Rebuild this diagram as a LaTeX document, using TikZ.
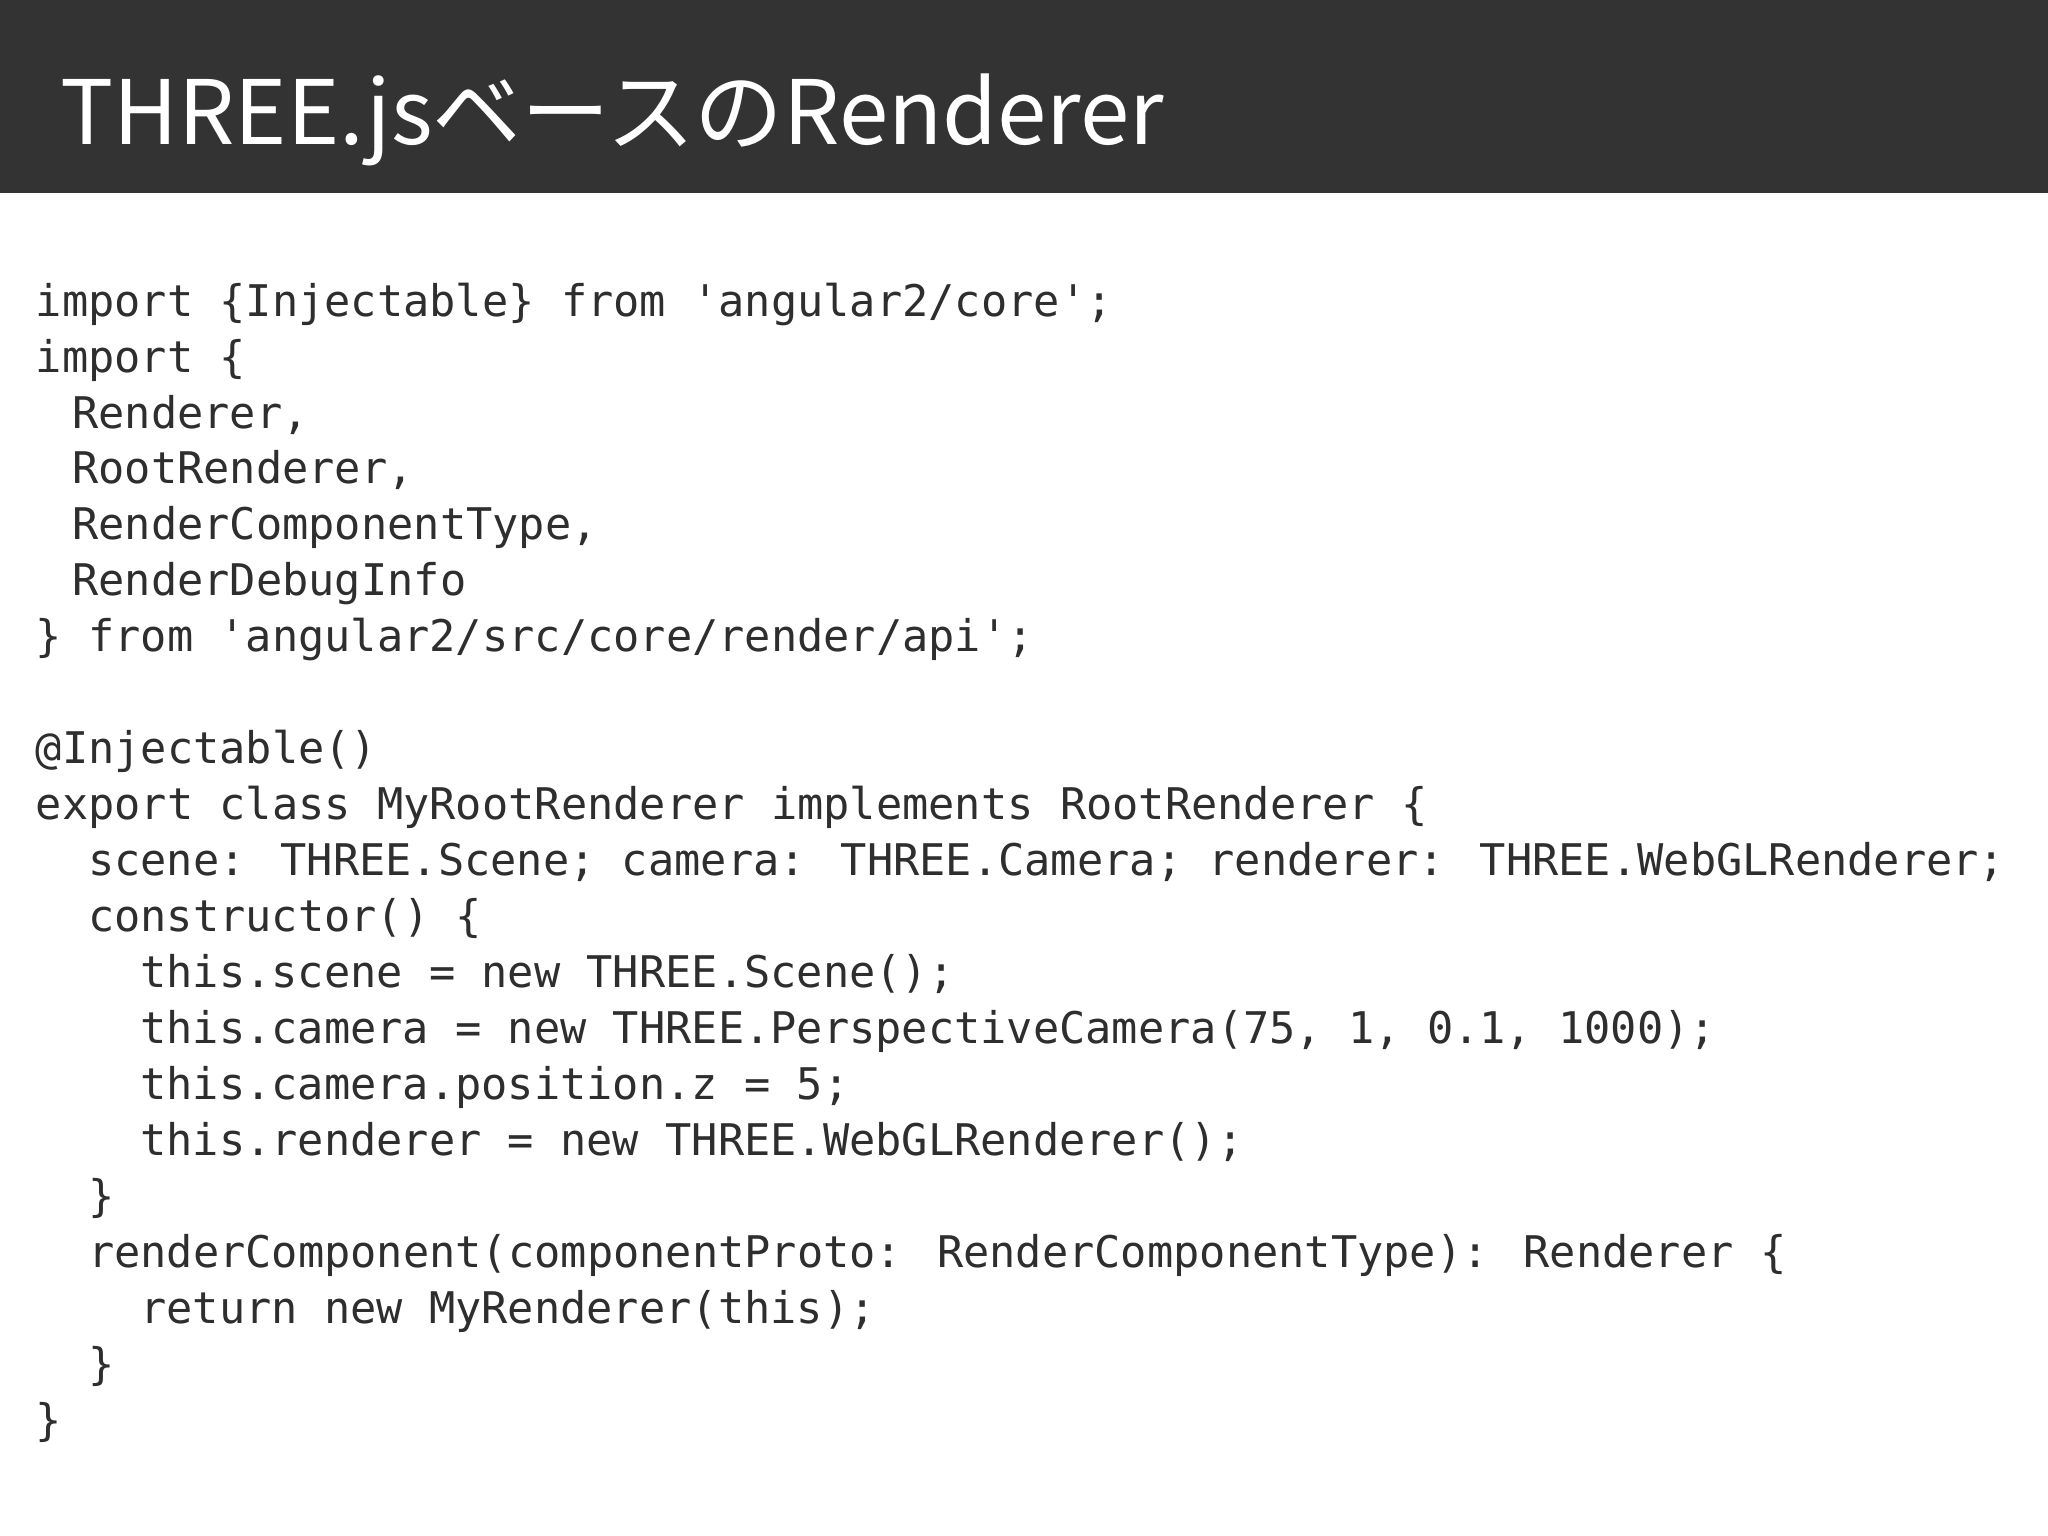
\documentclass[tikz,border=0pt]{standalone}
\usepackage{fontspec}
\newfontfamily\titlefont{Noto Sans CJK JP}
\newfontfamily\code{DejaVu Sans Mono}
\definecolor{band}{HTML}{333333}
\definecolor{txt}{HTML}{2E2E2E}
\begin{document}
\begin{tikzpicture}[x=0.5pt,y=-0.5pt,
  cl/.style={anchor=base west,inner sep=0pt,text=txt,font=\code\fontsize{16.7pt}{20pt}\selectfont}]
\useasboundingbox (0,0) rectangle (1568,1176);
\fill[white] (0,0) rectangle (1568,1176);
\fill[band] (0,0) rectangle (1568,148);
\node[anchor=base west,inner sep=0pt,text=white,font=\titlefont\fontsize{34pt}{40pt}\selectfont] (title) at (46,111) {THREE.jsベースのRenderer};
\def\L#1#2#3{\node[cl] (l#1) at (#2,{242+(#1-1)*42.85}) {#3};}
\L{1}{27}{import \{Injectable\} from 'angular2/core';}
\L{2}{27}{import \{}
\L{3}{55}{Renderer,}
\L{4}{55}{RootRenderer,}
\L{5}{55}{RenderComponentType,}
\L{6}{55}{RenderDebugInfo}
\L{7}{27}{\} from 'angular2/src/core/render/api';}
\L{9}{27}{@Injectable()}
\L{10}{27}{export class MyRootRenderer implements RootRenderer \{}
\L{11}{67}{scene: THREE.Scene; camera: THREE.Camera; renderer: THREE.WebGLRenderer;}
\L{12}{67}{constructor() \{}
\L{13}{107}{this.scene = new THREE.Scene();}
\L{14}{107}{this.camera = new THREE.PerspectiveCamera(75, 1, 0.1, 1000);}
\L{15}{107}{this.camera.position.z = 5;}
\L{16}{107}{this.renderer = new THREE.WebGLRenderer();}
\L{17}{67}{\}}
\L{18}{67}{renderComponent(componentProto: RenderComponentType): Renderer \{}
\L{19}{107}{return new MyRenderer(this);}
\L{20}{67}{\}}
\L{21}{27}{\}}
\end{tikzpicture}
\end{document}
